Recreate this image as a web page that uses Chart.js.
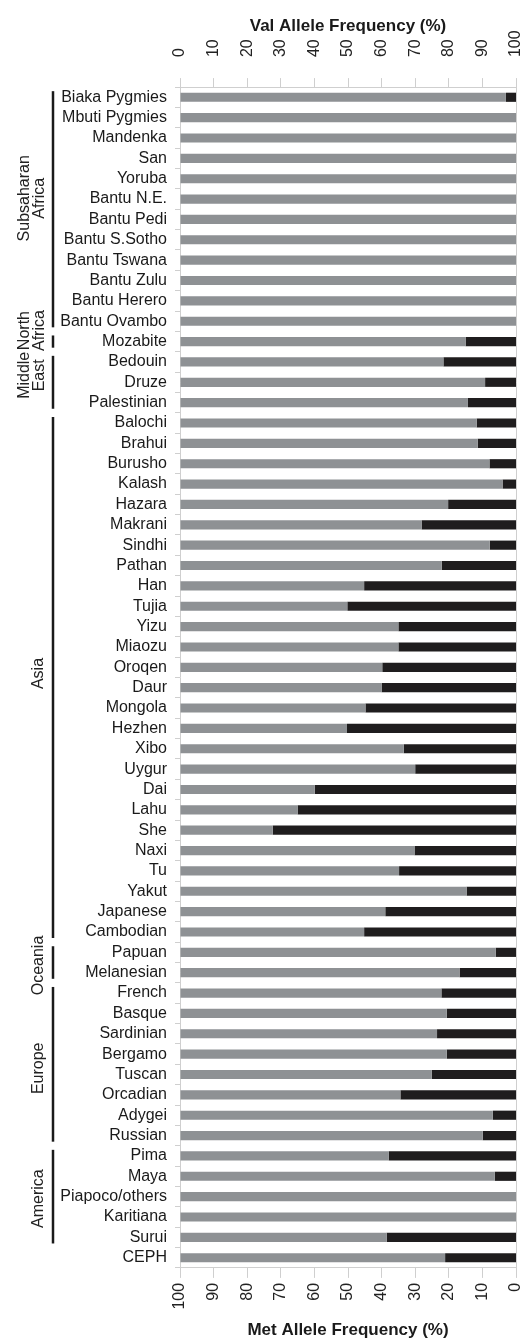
<!DOCTYPE html>
<html>
<head>
<meta charset="utf-8">
<script src="https://cdn.jsdelivr.net/npm/chart.js@4.4.0/dist/chart.umd.min.js"></script>
<style>
  html, body { margin: 0; padding: 0; background: #fff; }
  #wrap { width: 522px; height: 1341px; }
</style>
</head>
<body>
<div id="wrap"><canvas id="chart" width="522" height="1341"></canvas></div>
<script>
// populations, top to bottom
const populations = [
    'Biaka Pygmies', 'Mbuti Pygmies', 'Mandenka', 'San', 'Yoruba', 'Bantu N.E.',
    'Bantu Pedi', 'Bantu S.Sotho', 'Bantu Tswana', 'Bantu Zulu', 'Bantu Herero', 'Bantu Ovambo',
    'Mozabite',
    'Bedouin', 'Druze', 'Palestinian',
    'Balochi', 'Brahui', 'Burusho', 'Kalash', 'Hazara', 'Makrani', 'Sindhi', 'Pathan',
    'Han', 'Tujia', 'Yizu', 'Miaozu', 'Oroqen', 'Daur', 'Mongola', 'Hezhen', 'Xibo', 'Uygur',
    'Dai', 'Lahu', 'She', 'Naxi', 'Tu', 'Yakut', 'Japanese', 'Cambodian',
    'Papuan', 'Melanesian',
    'French', 'Basque', 'Sardinian', 'Bergamo', 'Tuscan', 'Orcadian', 'Adygei', 'Russian',
    'Pima', 'Maya', 'Piapoco/others', 'Karitiana', 'Surui',
    'CEPH'
];

// Val allele frequency (%)
const valFreq = [
    97, 100, 100, 100, 100, 100, 100, 100, 100, 100, 100, 100,
    85,
    78.4, 90.8, 85.7,
    88.3, 88.6, 92.1, 96, 79.8, 71.9, 92.2, 77.9,
    54.8, 49.8, 65, 65, 60.2, 60, 55.2, 49.7, 66.6, 70,
    40.1, 35, 27.6, 69.8, 65.2, 85.3, 61.1, 54.8,
    94, 83.2,
    77.8, 79.4, 76.5, 79.4, 74.9, 65.6, 93.1, 90.1,
    62.1, 93.7, 100, 100, 61.5,
    78.9
];

// Met allele frequency (%)
const metFreq = [
    3, 0, 0, 0, 0, 0, 0, 0, 0, 0, 0, 0,
    15,
    21.6, 9.2, 14.3,
    11.7, 11.4, 7.9, 4, 20.2, 28.1, 7.8, 22.1,
    45.2, 50.2, 35, 35, 39.8, 40, 44.8, 50.3, 33.4, 30,
    59.9, 65, 72.4, 30.2, 34.8, 14.7, 38.9, 45.2,
    6, 16.8,
    22.2, 20.6, 23.5, 20.6, 25.1, 34.4, 6.9, 9.9,
    37.9, 6.3, 0, 0, 38.5,
    21.1
];

// regional groups (first / last population index)
const groupNames = [['Subsaharan', 'Africa'], ['North', 'Africa'], ['Middle', 'East'], ['Asia'], ['Oceania'], ['Europe'], ['America']];
const groupFirst = [0, 12, 13, 16, 42, 44, 52];
const groupLast = [11, 12, 15, 41, 43, 51, 56];

const FONT = "'Liberation Sans', Arial, sans-serif";
const AXIS_GRAY = '#cfcfcf';

// small nudges so the rotated group names sit like in the figure
const labelShift = { 'Subsaharan': -11, 'North': -11, 'Middle': -7, 'Asia': -4, 'Oceania': 3, 'Europe': 4, 'America': 2 };

// draws the region brackets and names on the left
const groupPlugin = {
    id: 'groups',
    afterDraw(chart) {
        const ctx = chart.ctx;
        const y = chart.scales.y;
        const step = Math.abs(y.getPixelForValue(1) - y.getPixelForValue(0));
        ctx.save();
        ctx.strokeStyle = '#1a1a1a';
        ctx.lineWidth = 2.5;
        ctx.fillStyle = '#222';
        ctx.font = '16px ' + FONT;
        ctx.textAlign = 'center';
        ctx.textBaseline = 'middle';
        for (let i = 0; i < groupNames.length; i++) {
            const top = y.getPixelForValue(groupFirst[i]) - step * 0.3;
            const bottom = y.getPixelForValue(groupLast[i]) + step * 0.3;
            ctx.beginPath();
            ctx.moveTo(53, top);
            ctx.lineTo(53, bottom);
            ctx.stroke();

            const lines = groupNames[i];
            const cy = (y.getPixelForValue(groupFirst[i]) + y.getPixelForValue(groupLast[i])) / 2 + (labelShift[lines[0]] || 0);
            lines.forEach(function(text, k) {
                const cx = lines.length === 1 ? 39 : (k === 0 ? 25 : 40);
                ctx.save();
                ctx.translate(cx, cy);
                ctx.rotate(-Math.PI / 2);
                ctx.fillText(text, 0, 0);
                ctx.restore();
            });
        }
        // right edge of plot box
        const a = chart.chartArea;
        ctx.strokeStyle = AXIS_GRAY;
        ctx.lineWidth = 1;
        ctx.beginPath();
        ctx.moveTo(a.right + 0.5, a.top);
        ctx.lineTo(a.right + 0.5, a.bottom);
        ctx.stroke();
        ctx.restore();
    }
};

// rotated tick labels make Chart.js reserve side padding; drop it
function noSidePadding(scale) {
    scale.paddingLeft = 0;
    scale.paddingRight = 0;
}

new Chart(document.getElementById('chart'), {
    type: 'bar',
    data: {
        labels: populations,
        datasets: [{
            label: 'Val',
            data: valFreq,
            backgroundColor: '#8e9194',
            xAxisID: 'x'
        }, {
            label: 'Met',
            data: metFreq,
            backgroundColor: '#1f1d1e',
            xAxisID: 'x'
        }]
    },
    options: {
        indexAxis: 'y',
        responsive: false,
        animation: false,
        layout: {
            padding: { top: 16, right: 6, bottom: 0, left: 0 }
        },
        datasets: {
            bar: { barPercentage: 0.45, categoryPercentage: 1.0 }
        },
        plugins: {
            legend: { display: false },
            tooltip: { enabled: false }
        },
        scales: {
            x: {
                type: 'linear',
                position: 'top',
                stacked: true,
                min: 0,
                max: 100,
                ticks: {
                    stepSize: 10,
                    minRotation: 90,
                    maxRotation: 90,
                    padding: 21,
                    labelOffset: 19.2,
                    color: '#222',
                    font: { family: FONT, size: 16 }
                },
                grid: {
                    drawOnChartArea: false,
                    color: AXIS_GRAY,
                    tickLength: 9
                },
                border: { color: AXIS_GRAY },
                title: {
                    display: true,
                    text: 'Val Allele Frequency (%)',
                    color: '#1a1a1a',
                    font: { family: FONT, size: 17, weight: 'bold' },
                    padding: { top: 0, bottom: -27 }
                },
                afterFit: noSidePadding
            },
            x2: {
                type: 'linear',
                position: 'bottom',
                reverse: true,
                min: 0,
                max: 100,
                ticks: {
                    stepSize: 10,
                    minRotation: 90,
                    maxRotation: 90,
                    padding: 5,
                    color: '#222',
                    font: { family: FONT, size: 16 }
                },
                grid: {
                    drawOnChartArea: false,
                    color: AXIS_GRAY,
                    tickLength: 10
                },
                border: { color: AXIS_GRAY },
                title: {
                    display: true,
                    text: 'Met Allele Frequency (%)',
                    color: '#1a1a1a',
                    font: { family: FONT, size: 17, weight: 'bold' },
                    padding: { top: 6, bottom: 0 }
                },
                afterFit: noSidePadding
            },
            y: {
                stacked: true,
                ticks: {
                    autoSkip: false,
                    padding: 8,
                    color: '#1a1a1a',
                    font: { family: FONT, size: 16 }
                },
                grid: {
                    drawOnChartArea: false,
                    color: AXIS_GRAY,
                    tickLength: 5
                },
                border: { color: AXIS_GRAY },
                afterFit: function(scale) {
                    scale.width = 180;
                }
            }
        }
    },
    plugins: [groupPlugin]
});
</script>
</body>
</html>
